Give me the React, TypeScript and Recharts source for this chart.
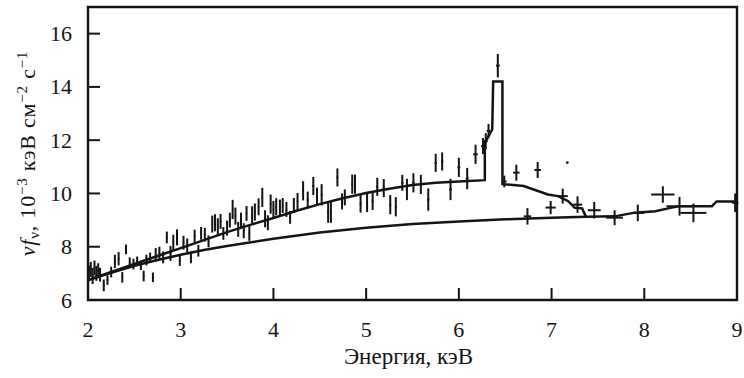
import React from 'react';
import { ComposedChart, Line, Scatter, ErrorBar, XAxis, YAxis, ReferenceArea } from 'recharts';

const INK = '#141414';
const SERIF = '"Times New Roman", "Liberation Serif", Tinos, FreeSerif, serif';

const xTicks = [2, 3, 4, 5, 6, 7, 8, 9];
const yTicks = [6, 8, 10, 12, 14, 16];

// model with the Fe line (upper curve)
const upperE = [2, 2.25, 2.5, 2.75, 3, 3.25, 3.5, 3.75, 4, 4.25, 4.5, 4.75, 5, 5.25, 5.5, 5.75, 6, 6.28, 6.28, 6.36, 6.37, 6.47, 6.47, 6.7, 6.96, 7.07, 7.18, 7.25, 7.33, 7.37];
const upperF = [6.75, 7.05, 7.35, 7.65, 7.95, 8.25, 8.55, 8.82, 9.08, 9.35, 9.6, 9.82, 10.02, 10.18, 10.32, 10.4, 10.45, 10.5, 11.9, 12.4, 14.2, 14.2, 10.35, 10.28, 9.96, 9.9, 9.71, 9.46, 9.44, 9.13];

// continuum (lower curve)
const lowerE = [2, 2.25, 2.5, 2.75, 3, 3.25, 3.5, 4, 4.5, 5, 5.5, 6, 6.5, 7, 7.37, 7.68, 7.9, 8.12, 8.27, 8.37, 8.73, 8.78, 9];
const lowerF = [6.75, 7.02, 7.28, 7.5, 7.7, 7.88, 8.03, 8.3, 8.53, 8.71, 8.85, 8.95, 9.03, 9.09, 9.13, 9.14, 9.28, 9.33, 9.45, 9.52, 9.52, 9.7, 9.7];

// observed points
const obsE = [
  2.01, 2.03, 2.05, 2.07, 2.09, 2.11, 2.13, 2.17, 2.21, 2.25, 2.29, 2.33, 2.37, 2.41, 2.45, 2.49, 2.53, 2.57, 2.6, 2.63,
  2.67, 2.7, 2.73, 2.77, 2.81, 2.85, 2.89, 2.92, 2.96, 2.99, 3.03, 3.07, 3.11, 3.15, 3.19, 3.22, 3.26, 3.3, 3.34, 3.37,
  3.4, 3.43, 3.46, 3.5, 3.53, 3.56, 3.59, 3.62, 3.65, 3.68, 3.71, 3.74, 3.77, 3.8, 3.84, 3.88, 3.91, 3.94, 3.97, 4.0,
  4.03, 4.07, 4.1, 4.14, 4.18, 4.22, 4.26, 4.32, 4.37, 4.43, 4.47, 4.52, 4.59, 4.62, 4.69, 4.74, 4.77, 4.85, 4.88, 4.94,
  5.01, 5.07, 5.12, 5.19, 5.26, 5.32, 5.39, 5.44, 5.51, 5.59, 5.67, 5.75, 5.82, 5.91, 6.0, 6.09, 6.18, 6.26, 6.29, 6.32,
  6.42, 6.49, 6.62, 6.74, 6.85, 6.99, 7.12, 7.28, 7.46, 7.68, 7.93, 8.2, 8.38, 8.53, 8.98,
];
const obsF = [
  7.0, 7.15, 6.9, 7.2, 7.0, 7.1, 6.95, 6.55, 6.75, 7.05, 7.45, 7.55, 6.85, 7.9, 7.4, 7.35, 7.45, 7.3, 6.9, 7.5,
  7.6, 6.85, 7.7, 7.75, 7.6, 8.35, 7.75, 8.15, 8.35, 7.5, 8.15, 8.05, 7.6, 8.4, 7.85, 8.5, 8.45, 8.2, 8.85, 8.9,
  8.75, 8.95, 8.5, 8.7, 9.0, 9.4, 9.15, 8.65, 9.0, 8.6, 9.25, 8.5, 9.2, 9.3, 9.5, 9.85, 9.05, 8.9, 9.6, 9.4,
  9.5, 9.45, 9.55, 9.4, 9.1, 9.55, 9.7, 10.1, 9.75, 10.28, 9.9, 9.95, 9.3, 9.3, 10.6, 9.7, 9.85, 10.35, 10.35, 9.62,
  9.66, 9.7, 10.25, 10.2, 9.58, 9.5, 10.4, 10.15, 10.4, 10.34, 9.77, 11.15, 11.2, 10.15, 10.98, 10.56, 11.47, 11.78, 11.96, 12.35,
  14.8, 10.45, 10.78, 9.14, 10.88, 9.47, 9.9, 9.58, 9.37, 9.09, 9.27, 9.96, 9.52, 9.27, 9.65,
];
const obsDF = [
  0.3, 0.28, 0.3, 0.28, 0.28, 0.28, 0.26, 0.22, 0.18, 0.2, 0.25, 0.25, 0.2, 0.18, 0.2, 0.2, 0.18, 0.18, 0.2, 0.2,
  0.18, 0.18, 0.25, 0.25, 0.22, 0.22, 0.28, 0.3, 0.3, 0.22, 0.26, 0.26, 0.22, 0.24, 0.22, 0.24, 0.26, 0.22, 0.32, 0.32,
  0.32, 0.28, 0.24, 0.28, 0.28, 0.36, 0.32, 0.28, 0.28, 0.28, 0.28, 0.28, 0.32, 0.32, 0.32, 0.36, 0.32, 0.28, 0.36, 0.32,
  0.32, 0.32, 0.28, 0.28, 0.24, 0.28, 0.32, 0.36, 0.32, 0.34, 0.32, 0.4, 0.4, 0.4, 0.34, 0.3, 0.3, 0.36, 0.36, 0.34,
  0.36, 0.32, 0.34, 0.34, 0.36, 0.36, 0.3, 0.4, 0.36, 0.36, 0.42, 0.34, 0.34, 0.4, 0.36, 0.4, 0.36, 0.3, 0.3, 0.26,
  0.44, 0.22, 0.3, 0.31, 0.3, 0.25, 0.28, 0.31, 0.31, 0.28, 0.31, 0.31, 0.35, 0.35, 0.35,
];
const obsDE = [
  0.008, 0.008, 0.008, 0.008, 0.008, 0.008, 0.008, 0.008, 0.008, 0.008, 0.008, 0.008, 0.008, 0.008, 0.008, 0.008, 0.008, 0.008, 0.008, 0.008,
  0.008, 0.008, 0.008, 0.008, 0.008, 0.008, 0.008, 0.008, 0.008, 0.008, 0.008, 0.008, 0.008, 0.008, 0.008, 0.008, 0.008, 0.008, 0.008, 0.008,
  0.008, 0.008, 0.008, 0.008, 0.008, 0.008, 0.008, 0.008, 0.008, 0.008, 0.008, 0.008, 0.008, 0.008, 0.008, 0.008, 0.008, 0.008, 0.008, 0.008,
  0.008, 0.008, 0.008, 0.008, 0.008, 0.008, 0.008, 0.01, 0.01, 0.01, 0.01, 0.01, 0.01, 0.01, 0.01, 0.01, 0.01, 0.01, 0.01, 0.01,
  0.01, 0.01, 0.01, 0.01, 0.01, 0.01, 0.012, 0.012, 0.012, 0.012, 0.012, 0.012, 0.012, 0.015, 0.015, 0.015, 0.025, 0.02, 0.02, 0.02,
  0.02, 0.025, 0.035, 0.04, 0.035, 0.055, 0.055, 0.05, 0.07, 0.09, 0.07, 0.126, 0.14, 0.14, 0.035,
];

const speckE = [7.17];
const speckF = [11.16];

const upperData = upperE.map((x, i) => ({ x, y: upperF[i] }));
const lowerData = lowerE.map((x, i) => ({ x, y: lowerF[i] }));
const obsData = obsE.map((x, i) => ({ x, y: obsF[i], ey: obsDF[i], ex: obsDE[i] }));
const speckData = speckE.map((x, i) => ({ x, y: speckF[i] }));

const XM = 22;
const YM = 16;
const TICK = 12;

function XTick(props: any) {
  const axisY = props.y - XM;
  return (
    <g>
      <line x1={props.x} x2={props.x} y1={axisY} y2={axisY - TICK} stroke={INK} strokeWidth={2} />
      <text x={props.x} y={props.y + 15} textAnchor="middle" fontSize={22} style={{ fontFamily: SERIF }} fill={INK}>
        {String(props.payload.value)}
      </text>
    </g>
  );
}

function YTick(props: any) {
  const axisX = props.x + YM;
  return (
    <g>
      <line x1={axisX} x2={axisX + TICK} y1={props.y} y2={props.y} stroke={INK} strokeWidth={2} />
      <text x={props.x} y={props.y + 7.5} textAnchor="end" fontSize={22} style={{ fontFamily: SERIF }} fill={INK}>
        {String(props.payload.value)}
      </text>
    </g>
  );
}

function XLabel(props: any) {
  const vb = props.viewBox || { x: 88, y: 300, width: 649, height: 78 };
  const cx = vb.x + vb.width / 2;
  return (
    <text x={cx - 4} y={vb.y + 64} textAnchor="middle" fontSize={23} style={{ fontFamily: SERIF }} fill={INK}>
      Энергия, кэВ
    </text>
  );
}

function YLabel(props: any) {
  const vb = props.viewBox || { x: 0, y: 7, width: 88, height: 293 };
  const cx = 35;
  const cy = vb.y + vb.height / 2;
  return (
    <text
      x={cx}
      y={cy}
      transform={`rotate(-90, ${cx}, ${cy})`}
      textAnchor="middle"
      fontSize={22}
      letterSpacing={0.8}
      style={{ fontFamily: SERIF }}
      fill={INK}
    >
      <tspan fontStyle="italic">νf</tspan>
      <tspan fontSize={15} dy={4}>ν</tspan>
      <tspan dy={-4}>, 10</tspan>
      <tspan fontSize={15} dy={-8}>−3</tspan>
      <tspan dy={8}> кэВ см</tspan>
      <tspan fontSize={15} dy={-8}>−2</tspan>
      <tspan dy={8}> с</tspan>
      <tspan fontSize={15} dy={-8}>−1</tspan>
    </text>
  );
}

export default function App() {
  return (
    <div style={{ position: 'absolute', left: 0, top: 0, fontFamily: SERIF }}>
      <ComposedChart width={744} height={378} margin={{ top: 7, right: 7, bottom: 0, left: 0 }}>
        <XAxis
          dataKey="x"
          type="number"
          domain={[2, 9]}
          ticks={xTicks}
          interval={0}
          tick={XTick}
          tickLine={false}
          axisLine={false}
          tickSize={0}
          tickMargin={XM}
          height={78}
          allowDataOverflow
          label={<XLabel />}
        />
        <YAxis
          dataKey="y"
          type="number"
          domain={[6, 17]}
          ticks={yTicks}
          interval={0}
          tick={YTick}
          tickLine={false}
          axisLine={false}
          tickSize={0}
          tickMargin={YM}
          width={88}
          allowDataOverflow
          label={<YLabel />}
        />
        <ReferenceArea x1={2} x2={9} y1={6} y2={17} fill="none" stroke={INK} strokeWidth={2.4} ifOverflow="visible" />
        <Line data={lowerData} dataKey="y" type="linear" stroke={INK} strokeWidth={2.5} dot={false} isAnimationActive={false} />
        <Line data={upperData} dataKey="y" type="linear" stroke={INK} strokeWidth={2.5} dot={false} isAnimationActive={false} />
        <Scatter data={obsData} dataKey="y" shape={() => <g />} isAnimationActive={false}>
          <ErrorBar dataKey="ey" direction="y" width={0} stroke={INK} strokeWidth={2} isAnimationActive={false} />
          <ErrorBar dataKey="ex" direction="x" width={0} stroke={INK} strokeWidth={2} isAnimationActive={false} />
        </Scatter>
        <Scatter data={speckData} dataKey="y" fill={INK} shape={(p: any) => <circle cx={p.cx} cy={p.cy} r={1.4} fill={INK} />} isAnimationActive={false} />
      </ComposedChart>
    </div>
  );
}
